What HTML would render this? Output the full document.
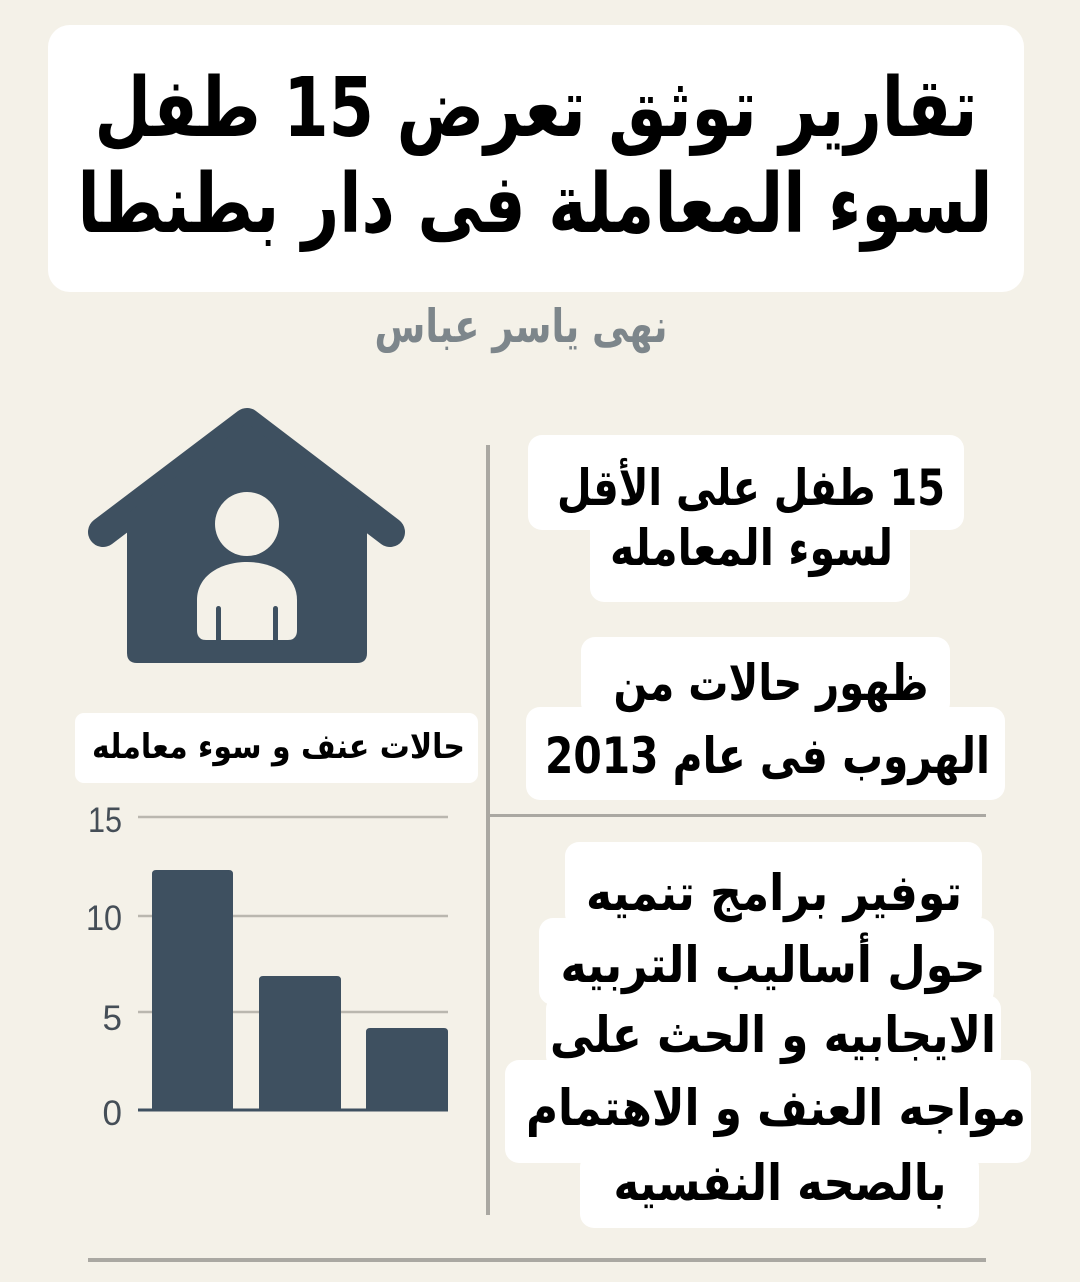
<!DOCTYPE html>
<html>
<head>
<meta charset="utf-8">
<style>
html,body{margin:0;padding:0;background:#f4f1e8;}
svg{display:block;}
.ar{font-family:"DejaVu Sans","Liberation Sans",sans-serif;font-weight:bold;fill:#000;direction:rtl;unicode-bidi:embed;}
.tick{font-family:"Liberation Sans","DejaVu Sans",sans-serif;fill:#454e57;font-size:35px;}
</style>
</head>
<body>
<svg width="1080" height="1282" viewBox="0 0 1080 1282" xmlns="http://www.w3.org/2000/svg">
  <rect x="0" y="0" width="1080" height="1282" fill="#f4f1e8"/>

  <!-- Title box -->
  <rect x="48" y="25" width="976" height="267" rx="22" fill="#ffffff"/>
  <text class="ar" x="536" y="136" font-size="82" text-anchor="middle" textLength="883" lengthAdjust="spacingAndGlyphs">تقارير توثق تعرض 15 طفل</text>
  <text class="ar" x="535" y="232" font-size="82" text-anchor="middle" textLength="915" lengthAdjust="spacingAndGlyphs">لسوء المعاملة فى دار بطنطا</text>

  <!-- Subtitle -->
  <text x="521" y="342" font-size="46" font-weight="bold" text-anchor="middle" textLength="293" lengthAdjust="spacingAndGlyphs" style="font-family:'DejaVu Sans',sans-serif;fill:#7d868b;direction:rtl;unicode-bidi:embed;">نهى ياسر عباس</text>

  <!-- House icon -->
  <g fill="#3e5060">
    <polyline points="103,532 247,423 390,532" fill="none" stroke="#3e5060" stroke-width="30" stroke-linecap="round" stroke-linejoin="round"/>
    <polygon points="127,545 127,514 247,423 367,514 367,545"/>
    <path d="M127,520 L367,520 L367,653 Q367,663 357,663 L137,663 Q127,663 127,653 Z"/>
  </g>
  <g fill="#f4f1e8">
    <circle cx="247" cy="524" r="32"/>
    <path d="M197,630 L197,600 C197,576 220,562 247,562 C274,562 297,576 297,600 L297,630 Q297,640 288,640 L206,640 Q197,640 197,630 Z"/>
  </g>
  <g fill="#3e5060">
    <rect x="216" y="606" width="5" height="40" rx="2.5"/>
    <rect x="273" y="606" width="5" height="40" rx="2.5"/>
  </g>

  <!-- Chart title box -->
  <rect x="75" y="713" width="403" height="70" rx="9" fill="#ffffff"/>
  <text class="ar" x="278.5" y="758" font-size="34" text-anchor="middle" textLength="373" lengthAdjust="spacingAndGlyphs">حالات عنف و سوء معامله</text>

  <!-- Chart gridlines -->
  <g stroke="#bab7af" stroke-width="2.5">
    <line x1="138" y1="817" x2="448" y2="817"/>
    <line x1="138" y1="916" x2="448" y2="916"/>
    <line x1="138" y1="1012" x2="448" y2="1012"/>
  </g>
  <!-- Bars -->
  <g fill="#3e5060">
    <path d="M152,1110 L152,874 Q152,870 156,870 L229,870 Q233,870 233,874 L233,1110 Z"/>
    <path d="M259,1110 L259,980 Q259,976 263,976 L337,976 Q341,976 341,980 L341,1110 Z"/>
    <path d="M366,1110 L366,1032 Q366,1028 370,1028 L444,1028 Q448,1028 448,1032 L448,1110 Z"/>
  </g>
  <line x1="138" y1="1110" x2="448" y2="1110" stroke="#3e5060" stroke-width="3"/>
  <!-- Ticks -->
  <text class="tick" x="122" y="832" text-anchor="end" textLength="34" lengthAdjust="spacingAndGlyphs">15</text>
  <text class="tick" x="122" y="930" text-anchor="end" textLength="36" lengthAdjust="spacingAndGlyphs">10</text>
  <text class="tick" x="122" y="1030" text-anchor="end">5</text>
  <text class="tick" x="122" y="1125" text-anchor="end">0</text>

  <!-- Dividers -->
  <rect x="486" y="445" width="4" height="770" fill="#aaa8a2"/>
  <rect x="490" y="814" width="496" height="3" fill="#aaa8a2"/>
  <rect x="88" y="1258" width="898" height="4" fill="#aaa8a2"/>

  <!-- Box 1 -->
  <g fill="#ffffff">
    <rect x="528" y="435" width="436" height="95" rx="14"/>
    <rect x="590" y="515" width="320" height="87" rx="14"/>
  </g>
  <text class="ar" x="751" y="505" font-size="50" text-anchor="middle" textLength="388" lengthAdjust="spacingAndGlyphs">15 طفل على الأقل</text>
  <text class="ar" x="751.5" y="565" font-size="50" text-anchor="middle" textLength="283" lengthAdjust="spacingAndGlyphs">لسوء المعامله</text>

  <!-- Box 2 -->
  <g fill="#ffffff">
    <rect x="581" y="637" width="369" height="80" rx="14"/>
    <rect x="526" y="707" width="479" height="93" rx="14"/>
  </g>
  <text class="ar" x="771" y="700" font-size="50" text-anchor="middle" textLength="315" lengthAdjust="spacingAndGlyphs">ظهور حالات من</text>
  <text class="ar" x="767.5" y="773" font-size="50" text-anchor="middle" textLength="445" lengthAdjust="spacingAndGlyphs">الهروب فى عام 2013</text>

  <!-- Box 3 -->
  <g fill="#ffffff">
    <rect x="565" y="842" width="417" height="86" rx="14"/>
    <rect x="539" y="918" width="455" height="87" rx="14"/>
    <rect x="546" y="995" width="455" height="75" rx="14"/>
    <rect x="505" y="1060" width="526" height="103" rx="14"/>
    <rect x="580" y="1153" width="399" height="75" rx="14"/>
  </g>
  <text class="ar" x="774" y="910" font-size="50" text-anchor="middle" textLength="376" lengthAdjust="spacingAndGlyphs">توفير برامج تنميه</text>
  <text class="ar" x="773" y="982" font-size="50" text-anchor="middle" textLength="425" lengthAdjust="spacingAndGlyphs">حول أساليب التربيه</text>
  <text class="ar" x="773" y="1052" font-size="50" text-anchor="middle" textLength="446" lengthAdjust="spacingAndGlyphs">الايجابيه و الحث على</text>
  <text class="ar" x="776" y="1125" font-size="50" text-anchor="middle" textLength="500" lengthAdjust="spacingAndGlyphs">مواجه العنف و الاهتمام</text>
  <text class="ar" x="780" y="1200" font-size="50" text-anchor="middle" textLength="333" lengthAdjust="spacingAndGlyphs">بالصحه النفسيه</text>
</svg>
</body>
</html>
